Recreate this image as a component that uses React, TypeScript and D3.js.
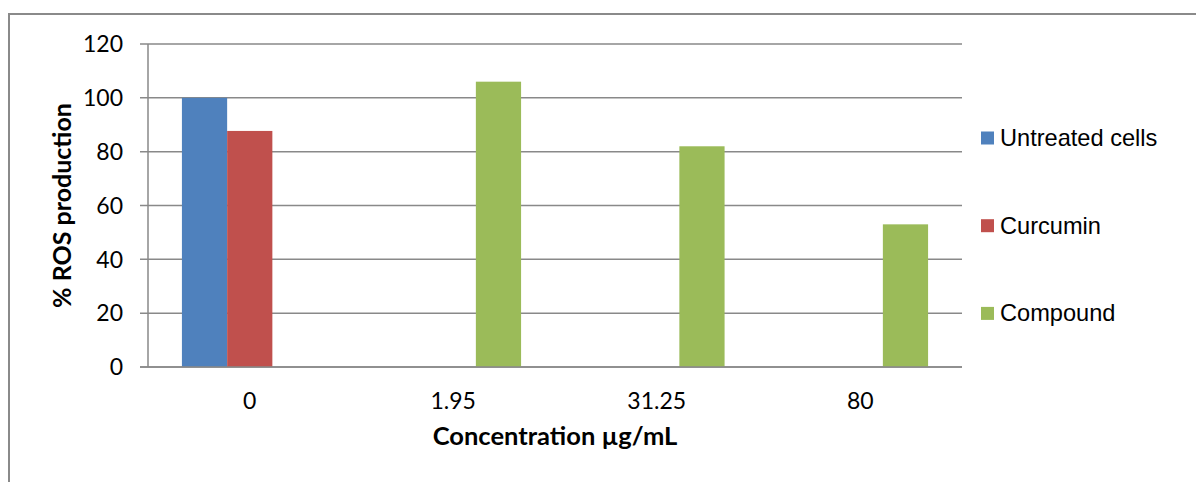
import React from "react";
import * as d3 from "d3";

const categories = ["0", "1.95", "31.25", "80"];
const seriesNames = ["Untreated cells", "Curcumin", "Compound"];
const untreatedValues = [100, null, null, null];
const curcuminValues = [87.7, null, null, null];
const compoundValues = [null, 106, 82, 53];
const yTicks = [0, 20, 40, 60, 80, 100, 120];

const seriesColors = ["#4F81BD", "#C0504D", "#9BBB59"];
const seriesValues = [untreatedValues, curcuminValues, compoundValues];

const W = 1196;
const H = 482;
const left = 148;
const right = 962;
const top = 44;
const bottom = 367;
const gridColor = "#898989";
const tickFont = "Lato, 'Open Sans', sans-serif";

const App = () => {
  const x = d3.scaleBand<string>().domain(categories).range([left, right]);
  const xInner = d3
    .scaleBand<string>()
    .domain(seriesNames)
    .range([0, x.bandwidth()])
    .paddingOuter(0.75);
  const y = d3.scaleLinear().domain([0, 120]).range([bottom, top]);

  return (
    <svg
      width={W}
      height={H}
      style={{ position: "absolute", left: 0, top: 0, background: "#fff" }}
    >
      <rect x={9} y={14} width={W + 20} height={H + 20} fill="#fff" stroke="#8a8a8a" strokeWidth={2} />

      {/* grid + y ticks */}
      {yTicks.map((t) => (
        <g key={t}>
          <line x1={140} x2={right} y1={y(t)} y2={y(t)} stroke={gridColor} strokeWidth={1.5} />
          <text
            x={123}
            y={y(t) + 8.3}
            textAnchor="end"
            fontFamily={tickFont}
            fontSize={23}
            fill="#000"
          >
            {t}
          </text>
        </g>
      ))}
      <line x1={left} x2={left} y1={top} y2={bottom} stroke={gridColor} strokeWidth={1.5} />

      {/* bars */}
      {seriesValues.map((vals, si) =>
        vals.map((v, ci) =>
          v == null ? null : (
            <rect
              key={`${si}-${ci}`}
              x={(x(categories[ci]) ?? 0) + (xInner(seriesNames[si]) ?? 0)}
              y={y(v)}
              width={xInner.bandwidth()}
              height={bottom - y(v)}
              fill={seriesColors[si]}
            />
          )
        )
      )}
      <line x1={140} x2={right} y1={bottom} y2={bottom} stroke={gridColor} strokeWidth={1.5} />

      {/* x labels */}
      {categories.map((c) => (
        <text
          key={c}
          x={(x(c) ?? 0) + x.bandwidth() / 2}
          y={409}
          textAnchor="middle"
          fontFamily={tickFont}
          fontSize={23}
          fill="#000"
        >
          {c}
        </text>
      ))}

      {/* axis titles */}
      <text
        x={555}
        y={445}
        textAnchor="middle"
        fontFamily={tickFont}
        fontWeight="bold"
        fontSize={25.5}
        fill="#000"
      >
        Concentration µg/mL
      </text>
      <text
        transform={`translate(71, ${(top + bottom) / 2}) rotate(-90)`}
        textAnchor="middle"
        fontFamily={tickFont}
        fontWeight="bold"
        fontSize={25}
        fill="#000"
      >
        % ROS production
      </text>

      {/* legend */}
      {seriesNames.map((name, i) => (
        <g key={name} transform={`translate(981, ${138 + i * 87.7})`}>
          <rect x={0} y={-6.5} width={13} height={13} fill={seriesColors[i]} />
          <text x={19} y={8} fontFamily="'Liberation Sans', Arial, sans-serif" fontSize={23.6} fill="#000">
            {name}
          </text>
        </g>
      ))}
    </svg>
  );
};

export default App;
